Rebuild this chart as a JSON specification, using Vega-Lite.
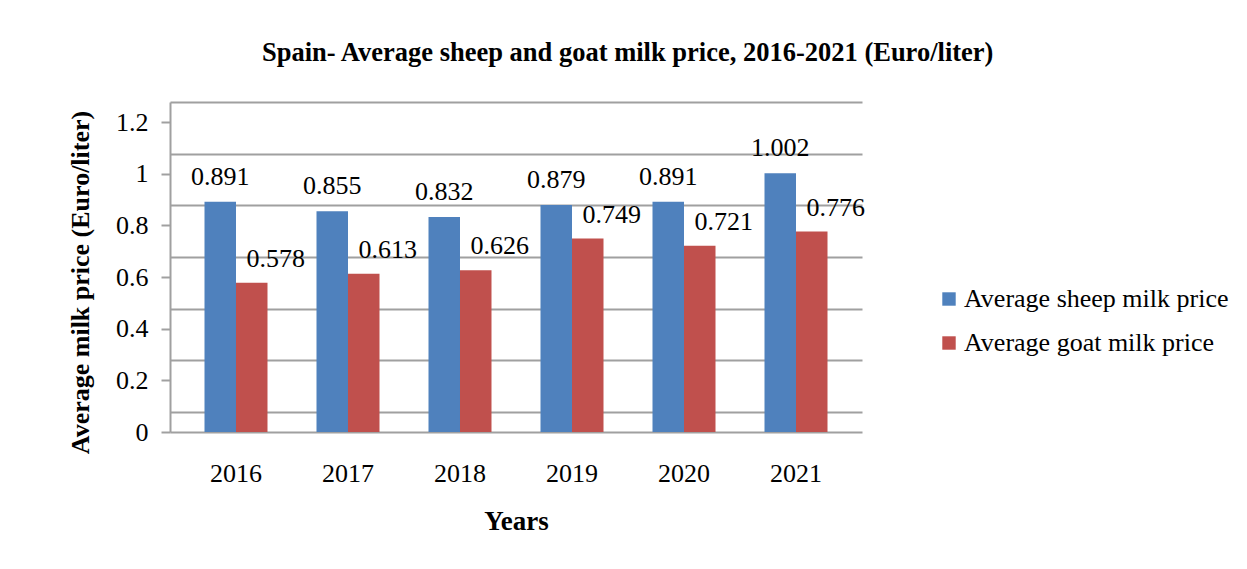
{
  "$schema": "https://vega.github.io/schema/vega-lite/v6.json",
  "width": 692,
  "height": 330,
  "autosize": "none",
  "padding": {"left": 170, "top": 102, "right": 385, "bottom": 137},
  "background": "white",
  "title": {
    "text": "Spain- Average sheep and goat milk price, 2016-2021 (Euro/liter)",
    "font": "Liberation Serif",
    "fontSize": 26.5,
    "fontWeight": "bold",
    "color": "#000000",
    "anchor": "start",
    "frame": "group",
    "dx": 92,
    "offset": 36
  },
  "data": {
    "values": [
      {"year": "2016", "series": "Average sheep milk price", "price": 0.891},
      {"year": "2016", "series": "Average goat milk price", "price": 0.578},
      {"year": "2017", "series": "Average sheep milk price", "price": 0.855},
      {"year": "2017", "series": "Average goat milk price", "price": 0.613},
      {"year": "2018", "series": "Average sheep milk price", "price": 0.832},
      {"year": "2018", "series": "Average goat milk price", "price": 0.626},
      {"year": "2019", "series": "Average sheep milk price", "price": 0.879},
      {"year": "2019", "series": "Average goat milk price", "price": 0.749},
      {"year": "2020", "series": "Average sheep milk price", "price": 0.891},
      {"year": "2020", "series": "Average goat milk price", "price": 0.721},
      {"year": "2021", "series": "Average sheep milk price", "price": 1.002},
      {"year": "2021", "series": "Average goat milk price", "price": 0.776}
    ]
  },
  "encoding": {
    "x": {
      "field": "year",
      "type": "nominal",
      "scale": {"paddingInner": 0.4375, "paddingOuter": 0.308},
      "axis": {
        "title": "Years",
        "titleFont": "Liberation Serif",
        "titleFontSize": 27,
        "titleFontWeight": "bold",
        "titleColor": "#000000",
        "titlePadding": 22,
        "labelFont": "Liberation Serif",
        "labelFontSize": 26,
        "labelColor": "#000000",
        "labelAngle": 0,
        "labelPadding": 28,
        "ticks": false,
        "domainColor": "#a0a0a0",
        "domainWidth": 2
      }
    }
  },
  "layer": [
    {
      "mark": {"type": "point", "opacity": 0},
      "encoding": {
        "y": {
          "field": "price",
          "type": "quantitative",
          "scale": {"domain": [-0.0775, 1.2], "nice": false, "zero": false},
          "axis": {
            "title": null,
            "orient": "left",
            "labels": false,
            "ticks": false,
            "domain": false,
            "values": [0, 0.2, 0.4, 0.6, 0.8, 1, 1.2],
            "grid": true,
            "gridColor": "#a0a0a0",
            "gridWidth": 2
          }
        }
      }
    },
    {
      "encoding": {
        "y": {
          "field": "price",
          "type": "quantitative",
          "scale": {"domain": [0, 1.2775], "nice": false},
          "axis": {
            "orient": "left",
            "title": "Average milk price (Euro/liter)",
            "titleFont": "Liberation Serif",
            "titleFontSize": 26,
            "titleFontWeight": "bold",
            "titleColor": "#000000",
            "titlePadding": 22,
            "titleY": 180,
            "labelFont": "Liberation Serif",
            "labelFontSize": 26,
            "labelColor": "#000000",
            "labelPadding": 13,
            "format": "~g",
            "values": [0, 0.2, 0.4, 0.6, 0.8, 1, 1.2],
            "grid": false,
            "tickColor": "#a0a0a0",
            "tickSize": 9,
            "tickWidth": 2,
            "domainColor": "#a0a0a0",
            "domainWidth": 2
          }
        }
      },
      "layer": [
        {
          "mark": {"type": "bar", "stroke": null},
          "encoding": {
            "xOffset": {"field": "series", "type": "nominal", "sort": ["Average sheep milk price", "Average goat milk price"]},
            "color": {
              "field": "series",
              "type": "nominal",
              "sort": ["Average sheep milk price", "Average goat milk price"],
              "scale": {"domain": ["Average sheep milk price", "Average goat milk price"], "range": ["#4F81BD", "#C0504D"]},
              "legend": {
                "title": null,
                "orient": "none",
                "legendX": 766,
                "legendY": 184,
                "symbolType": "square",
                "symbolSize": 180,
                "symbolStrokeWidth": 0,
                "labelFont": "Liberation Serif",
                "labelFontSize": 26,
                "labelColor": "#000000",
                "labelLimit": 400,
                "rowPadding": 18,
                "labelOffset": 2
              }
            }
          }
        },
        {
          "transform": [{"filter": "datum.series === 'Average sheep milk price'"}],
          "mark": {"type": "text", "font": "Liberation Serif", "fontSize": 26, "color": "#000000", "dx": 0, "dy": -17, "baseline": "alphabetic"},
          "encoding": {
            "xOffset": {"datum": "Average sheep milk price"},
            "text": {"field": "price", "type": "quantitative", "format": ".3f"}
          }
        },
        {
          "transform": [{"filter": "datum.series === 'Average goat milk price'"}],
          "mark": {"type": "text", "font": "Liberation Serif", "fontSize": 26, "color": "#000000", "dx": 24, "dy": -16, "baseline": "alphabetic"},
          "encoding": {
            "xOffset": {"datum": "Average goat milk price"},
            "text": {"field": "price", "type": "quantitative", "format": ".3f"}
          }
        }
      ]
    }
  ],
  "resolve": {"scale": {"y": "independent"}, "axis": {"y": "independent"}},
  "config": {
    "view": {"stroke": null}
  }
}
